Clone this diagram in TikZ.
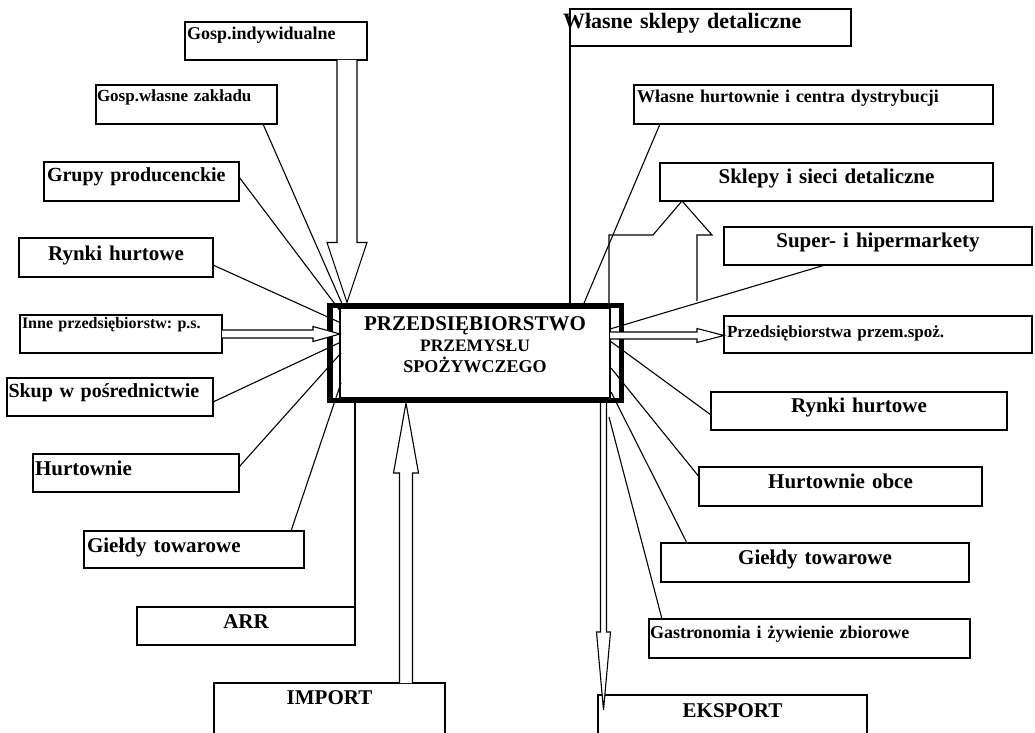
\documentclass[tikz,border=0pt]{standalone}
\usepackage{fontspec}
\setmainfont{Liberation Serif}
\usetikzlibrary{calc}
\frenchspacing
\newcommand\fsz[1]{\fontsize{#1bp}{21bp}\selectfont\bfseries}
\newcommand\hollow[5]{%
  \coordinate (hA) at (#1); \coordinate (hB) at (#2);
  \coordinate (hH) at ($(hB)!#5!(hA)$);
  \draw[conn, fill=white]
    ($(hA)!#3!90:(hB)$) -- ($(hH)!#3!-90:(hA)$) -- ($(hH)!#4!-90:(hA)$) -- (hB)
    -- ($(hH)!#4!90:(hA)$) -- ($(hH)!#3!90:(hA)$) -- ($(hA)!#3!-90:(hB)$);}
\begin{document}
\begin{tikzpicture}[x=1bp,y=-1bp,
  conn/.style={line width=1.1bp, line join=miter},
  bx/.style={draw, line width=1.2bp, anchor=north west, inner ysep=0pt, outer sep=0pt, inner xsep=3bp},
  lft/.style={align=left},
  mid/.style={align=center}]
\useasboundingbox (0,0) rectangle (1035,733);
% ---- left boxes
\node[bx, lft, minimum width=182bp, text width=178bp, inner xsep=2bp, text height=18bp, text depth=20bp, font=\fsz{18}] (gi) at (185,22) {Gosp.indywidualne};
\node[bx, lft, minimum width=181bp, text width=179bp, inner xsep=1bp, text height=17bp, text depth=22bp, font=\fsz{17}] (gw) at (96,85) {Gosp.własne zakładu};
\node[bx, lft, minimum width=195bp, text width=189bp, text height=20bp, text depth=19bp, font=\fsz{20}] (gp) at (44,162) {Grupy producenckie};
\node[bx, mid, minimum width=194bp, text width=188bp, text height=22bp, text depth=17bp, font=\fsz{21}] (rl) at (19,238) {Rynki hurtowe};
\node[bx, lft, minimum width=202bp, text width=198bp, inner xsep=2bp, text height=13bp, text depth=25bp, font=\fsz{16}] (ip) at (20,315) {Inne przedsiębiorstw: p.s.};
\node[bx, lft, minimum width=206bp, text width=203bp, inner xsep=1.5bp, text height=19bp, text depth=19bp, font=\fsz{20}] (sk) at (7,378) {Skup w pośrednictwie};
\node[bx, lft, minimum width=206bp, text width=202bp, inner xsep=2bp, text height=21bp, text depth=17bp, font=\fsz{21}] (hu) at (33,454) {Hurtownie};
\node[bx, lft, minimum width=220bp, text width=214bp, text height=21bp, text depth=16bp, font=\fsz{21}] (gl) at (84,531) {Giełdy towarowe};
\node[bx, mid, minimum width=218bp, text width=212bp, text height=21bp, text depth=17bp, font=\fsz{21}] (arr) at (137,607) {ARR};
\node[bx, mid, minimum width=231bp, text width=225bp, text height=21bp, text depth=41bp, font=\fsz{21}] (imp) at (214,683) {IMPORT};
% ---- right boxes
\node[bx, lft, minimum width=281bp, text width=281bp, inner xsep=0bp, text height=20bp, text depth=17bp, font=\fsz{22}] (ws) at (570,9) {\hspace*{-7bp}Własne sklepy detaliczne};
\node[bx, lft, minimum width=359bp, text width=353bp, text height=18bp, text depth=21bp, font=\fsz{18}] (wh) at (634,85) {Własne hurtownie i centra dystrybucji};
\node[bx, mid, minimum width=333bp, text width=327bp, text height=21bp, text depth=17bp, font=\fsz{21}] (ss) at (660,163) {Sklepy i sieci detaliczne};
\node[bx, mid, minimum width=308bp, text width=302bp, text height=20bp, text depth=18bp, font=\fsz{21}] (sh) at (724,227) {Super- i hipermarkety};
\node[bx, lft, minimum width=308bp, text width=302bp, text height=21bp, text depth=16bp, font=\fsz{17}] (pp) at (724,316) {Przedsiębiorstwa przem.spoż.};
\node[bx, mid, minimum width=296bp, text width=290bp, text height=20bp, text depth=18bp, font=\fsz{21}] (rr) at (711,392) {Rynki hurtowe};
\node[bx, mid, minimum width=283bp, text width=277bp, text height=21bp, text depth=18bp, font=\fsz{21}] (ho) at (699,467) {Hurtownie obce};
\node[bx, mid, minimum width=308bp, text width=302bp, text height=21bp, text depth=18bp, font=\fsz{21}] (gr) at (661,543) {Giełdy towarowe};
\node[bx, lft, minimum width=321bp, text width=319bp, inner xsep=1bp, text height=19bp, text depth=20bp, font=\fsz{18}] (ga) at (649,619) {Gastronomia i żywienie zbiorowe};
\node[bx, mid, minimum width=269bp, text width=263bp, text height=22bp, text depth=38bp, font=\fsz{21}] (ex) at (598,695) {EKSPORT};
% ---- centre
\node[draw, line width=5.5bp, minimum width=291.5bp, minimum height=95bp, inner sep=0pt, outer sep=0pt] (frm) at (475.75,353) {};
\node[bx, mid, minimum width=270bp, text width=264bp, text height=22bp, text depth=68bp, font=\fsz{21}] (ctr) at (340,308)
  {PRZEDSIĘBIORSTWO\\{\fsz{17.5}PRZEMYSŁU}\\{\fsz{18}SPOŻYWCZEGO}};
% ---- plain connectors, left
\draw[conn] ($(gw.south west)+(167,0)$) -- ($(ctr.north west)+(3,-2)$);
\draw[conn] ($(gp.north east)+(0,15)$) -- ($(ctr.north west)+(1,4)$);
\draw[conn] ($(rl.north east)+(0,27)$) -- ($(ctr.north west)+(1,15)$);
\draw[conn] ($(sk.north east)+(0,24)$) -- ($(ctr.north west)+(1,34)$);
\draw[conn] ($(hu.north east)+(0,13)$) -- ($(ctr.north west)+(1,45)$);
\draw[conn] ($(gl.north west)+(207,0)$) -- ($(ctr.north west)+(1,75)$);
\draw[conn] (arr.north east) -- (arr.north east |- frm.south);
% ---- plain connectors, right
\draw[conn] (ws.south west) -- (ws.south west |- frm.north);
\draw[conn] ($(wh.south west)+(26,0)$) -- ($(frm.north west)+(253,0)$);
\draw[conn] ($(sh.south west)+(101,0)$) -- ($(ctr.north east)+(0,21)$);
\draw[conn] ($(ctr.north east)+(0,33)$) -- ($(rr.north west)+(0,23)$);
\draw[conn] ($(ctr.north east)+(1,60)$) -- ($(ho.north west)+(1,11)$);
\draw[conn] ($(ctr.north east)+(1,84)$) -- ($(gr.north west)+(26,0)$);
\coordinate (gaS) at ($(ctr.north east)+(-1,109)$);
\draw[conn] (gaS) -- ($(ga.north west)+(13,0)$);
% ---- odd arrow to Sklepy i sieci detaliczne
\coordinate (ssT) at ($(ss.south west)+(22,0)$);
\coordinate (ssL) at ($(ssT)+(-73,34)$);
\draw[conn] (ssL |- frm.north) -- (ssL) -- ($(ssT)+(-29,34)$) -- (ssT) -- ($(ssT)+(30,34)$) -- ($(ssT)+(15,34)$) -- ($(ssT)+(15,100)$);
% ---- hollow arrows
\coordinate (giT) at ($(frm.north west)+(17,-3)$);
\hollow{giT |- gi.south}{giT}{10bp}{20bp}{60bp}
\coordinate (ipT) at ($(ctr.north west)+(0,26)$);
\hollow{ipT -| ip.east}{ipT}{4bp}{7.5bp}{27bp}
\coordinate (ppS) at ($(ctr.north east)+(0,27.5)$);
\hollow{ppS}{ppS -| pp.west}{3.5bp}{7bp}{27bp}
\coordinate (impT) at ($(ctr.south west)+(66,5)$);
\hollow{impT |- imp.north}{impT}{6.5bp}{12.5bp}{70bp}
\coordinate (exS) at ($(ctr.south east)+(-6.5,5)$);
\coordinate (exT) at ($(exS |- ex.north)+(0,15)$);
\hollow{exS}{exT}{3bp}{7bp}{78bp}
\end{tikzpicture}
\end{document}
